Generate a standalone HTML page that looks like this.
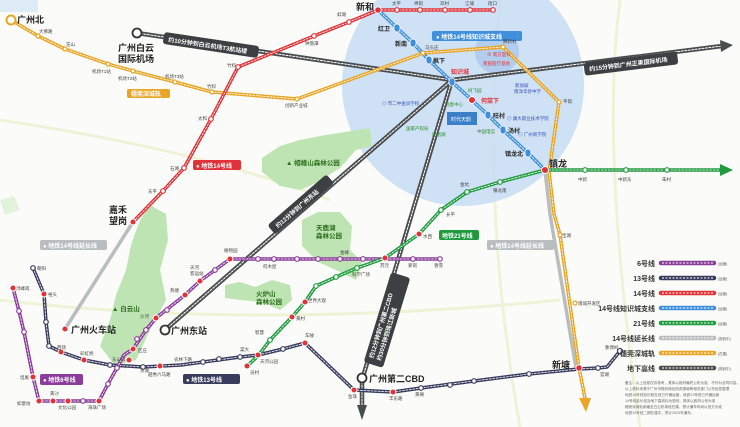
<!DOCTYPE html>
<html><head><meta charset="utf-8"><style>
html,body{margin:0;padding:0;background:#fbfcf9;}
svg{display:block;font-family:"Liberation Sans","Noto Sans CJK SC",sans-serif;}
.s{font-size:4.5px;fill:#444;}
.b{font-size:9px;font-weight:bold;fill:#222;}
.lg{font-size:7px;font-weight:bold;fill:#333;text-anchor:end;}
.bt{font-size:6px;fill:#fff;font-weight:bold;}
</style></head><body>
<svg width="740" height="427" viewBox="0 0 740 427" xmlns="http://www.w3.org/2000/svg">
<rect width="740" height="427" fill="#fbfcf9"/>
<g stroke="#eef3d8" stroke-width="3" fill="none">
<path d="M0,120 Q200,150 330,200"/><path d="M500,0 Q480,200 520,427"/><path d="M620,0 Q600,150 640,427"/><path d="M0,300 Q250,330 560,300"/>
</g>
<circle cx="463" cy="85" r="121" fill="#c5dcf4" opacity="0.85"/>
<circle cx="497" cy="52" r="22" fill="#b3cdee"/>
<g fill="#bfe4b4">
<path d="M150,205 L166,214 L168,240 L160,270 L166,300 L150,330 L136,360 L115,366 L100,346 L110,320 L116,295 L126,270 L131,245 L140,220Z"/>
<path d="M262,172 L262,158 L280,146 L300,140 L320,136 L345,132 L370,128 L372,146 L356,150 L340,168 L318,182 L300,190 L280,186Z"/>
<path d="M302,220 L318,212 L340,212 L352,226 L350,250 L362,262 L356,280 L336,270 L318,262 L302,246Z"/>
<path d="M225,285 L240,282 L255,287 L272,280 L290,285 L292,300 L280,310 L262,302 L240,300 L225,298Z"/>
<path d="M0,200 L14,196 L20,210 L5,215Z" opacity="0.4"/>
</g>
<g font-size="6.5" font-weight="bold" fill="#2a6e1a">
<text x="286" y="165">▲ 帽峰山森林公园</text>
<text x="316" y="230">天鹿湖</text><text x="316" y="238">森林公园</text>
<text x="256" y="296">火炉山</text><text x="256" y="304">森林公园</text>
<text x="112" y="311">▲ 白云山</text>
</g>
<g fill="none" stroke-linecap="round">
<g stroke="#4a4d4f" stroke-width="4.5">
<path d="M137,33 L452,80"/><path d="M452,80 L722,46"/><path d="M452,80 L165,330"/><path d="M452,80 L362,380 L362,408"/>
</g>
<g stroke="#fff" stroke-width="1" stroke-dasharray="2 1.5">
<path d="M137,33 L452,80"/><path d="M452,80 L722,46"/><path d="M452,80 L165,330"/><path d="M452,80 L362,380 L362,405"/>
</g>
</g>
<polygon points="720,40 733,45 721,52" fill="#4a4d4f"/>
<polygon points="357,405 367,405 362,420" fill="#4a4d4f"/>
<circle cx="137" cy="33" r="4.5" fill="#fff" stroke="#333" stroke-width="1.8"/>
<circle cx="165" cy="330" r="4.5" fill="#fff" stroke="#333" stroke-width="1.8"/>
<circle cx="362" cy="378" r="4.5" fill="#fff" stroke="#333" stroke-width="1.8"/>
<g fill="none" stroke-linecap="round" stroke-linejoin="round">
<path d="M133,222 L65,329" stroke="#b9bdbf" stroke-width="3.5"/>
<path d="M545,170 L550,214 L576,368" stroke="#b9bdbf" stroke-width="3.5"/>
</g>
<g fill="none" stroke-linecap="round" stroke-linejoin="round">
<path d="M11,20 L38,36 L65,49 L108,64 L133,71 L175,82 L212,92 L297,99 L423,53 L503,47 L559,102 L549,172 L554,214 L560,235 L579,368 L585,398" stroke="#e8a526" stroke-width="3.5"/>
<path d="M11,20 L38,36 L65,49 L108,64 L133,71 L175,82 L212,92 L297,99 L423,53 L503,47 L559,102 L549,172 L554,214 L560,235 L579,368 L585,398" stroke="#fff" stroke-width="0.8" stroke-dasharray="2 1.5"/>
</g>
<polygon points="579,398 591,398 586,412" fill="#e8a526"/>
<circle cx="11" cy="20" r="4.5" fill="#fff" stroke="#e8a526" stroke-width="2"/>
<g fill="none" stroke-linecap="round" stroke-linejoin="round">
<path d="M33,268 L44,294 L46,322 L49,346 L61,352 L84,360 L110,365 L143,367 L181,365 L203,362 L240,357 L258,355 L283,349 L305,343 L354,390 L393,392 L421,388 L474,381 L529,374 L579,369 L598,368 L607,367 L620,351" stroke="#3a3c5e" stroke-width="3.5"/>
<path d="M33,268 L44,294 L46,322 L49,346 L61,352 L84,360 L110,365 L143,367 L181,365 L203,362 L240,357 L258,355 L283,349 L305,343 L354,390 L393,392 L421,388 L474,381 L529,374 L579,369 L598,368 L607,367 L620,351" stroke="#fff" stroke-width="0.8" stroke-dasharray="2 1.5"/>
<path d="M13,288 L19,311 L24,332 L33,377 L39,401 L99,401 L108,384 L124,355 L133,349 L146,330 L156,318 L185,295 L200,281 L230,259 L440,259" stroke="#8a3c9a" stroke-width="3.5"/>
<path d="M13,288 L19,311 L24,332 L33,377 L39,401 L99,401 L108,384 L124,355 L133,349 L146,330 L156,318 L185,295 L200,281 L230,259 L440,259" stroke="#fff" stroke-width="0.8" stroke-dasharray="2 1.5"/>
<path d="M247,366 L258,356 L270,340 L292,317 L305,302 L316,286 L336,277 L357,268 L385,258 L419,234 L441,210 L467,192 L500,182 L545,170 L722,170" stroke="#1f9a3e" stroke-width="3.5"/>
<path d="M247,366 L258,356 L270,340 L292,317 L305,302 L316,286 L336,277 L357,268 L385,258 L419,234 L441,210 L467,192 L500,182 L545,170 L720,170" stroke="#fff" stroke-width="0.8" stroke-dasharray="2 1.5"/>
<path d="M133,222 L163,191 L184,168 L211,119 L238,67 L314,36 L349,22 L378,10 L493,10" stroke="#e03238" stroke-width="3.5"/>
<path d="M133,222 L163,191 L184,168 L211,119 L238,67 L314,36 L349,22 L378,10 L493,10" stroke="#fff" stroke-width="0.8" stroke-dasharray="2 1.5"/>
<path d="M378,10 L397,28 L413,43 L429,60 L452,82 L472,100 L488,115 L503,130 L528,153 L545,170" stroke="#3f8fdc" stroke-width="3.5"/>
<path d="M378,10 L397,28 L413,43 L429,60 L452,82 L472,100 L488,115 L503,130 L528,153 L545,170" stroke="#fff" stroke-width="0.8" stroke-dasharray="2 1.5"/>
</g>
<polygon points="720,164 733,170 720,176" fill="#1f9a3e"/>
<g fill="#fff" stroke-width="1.2">
<g stroke="#e8a526"><circle cx="38" cy="36" r="2"/><circle cx="65" cy="49" r="2"/><circle cx="108" cy="64" r="2"/><circle cx="133" cy="71" r="2"/><circle cx="175" cy="82" r="2"/><circle cx="212" cy="92" r="2"/><circle cx="297" cy="99" r="2"/><circle cx="423" cy="53" r="2"/><circle cx="503" cy="47" r="2"/><circle cx="559" cy="102" r="2"/><circle cx="560" cy="235" r="2"/><circle cx="575" cy="303" r="2"/></g>
<g stroke="#e03238"><circle cx="163" cy="191" r="2.3"/><circle cx="184" cy="168" r="2.3"/><circle cx="211" cy="119" r="2.3"/><circle cx="238" cy="67" r="2.3"/><circle cx="314" cy="36" r="2.3"/><circle cx="349" cy="22" r="2.3"/><circle cx="397" cy="10" r="2.3"/><circle cx="420" cy="10" r="2.3"/><circle cx="445" cy="10" r="2.3"/><circle cx="470" cy="10" r="2.3"/><circle cx="493" cy="10" r="2.3"/></g>
<g stroke="#1f9a3e"><circle cx="585" cy="170" r="2.3"/><circle cx="626" cy="170" r="2.3"/><circle cx="667" cy="170" r="2.3"/><circle cx="500" cy="182" r="2.3"/><circle cx="467" cy="192" r="2.3"/><circle cx="441" cy="210" r="2.3"/><circle cx="357" cy="268" r="2.3"/><circle cx="336" cy="277" r="2.3"/><circle cx="316" cy="286" r="2.3"/><circle cx="270" cy="340" r="2.3"/></g>
<g stroke="#8a3c9a"><circle cx="19" cy="311" r="2.3"/><circle cx="24" cy="332" r="2.3"/><circle cx="83" cy="401" r="2.3"/><circle cx="108" cy="384" r="2.3"/><circle cx="117" cy="368" r="2.3"/><circle cx="146" cy="330" r="2.3"/><circle cx="137" cy="339" r="2.3"/><circle cx="167" cy="310" r="2.3"/><circle cx="215" cy="270" r="2.3"/><circle cx="258" cy="259" r="2.3"/><circle cx="274" cy="259" r="2.3"/><circle cx="297" cy="259" r="2.3"/><circle cx="318" cy="259" r="2.3"/><circle cx="340" cy="259" r="2.3"/><circle cx="363" cy="259" r="2.3"/><circle cx="413" cy="259" r="2.3"/><circle cx="440" cy="259" r="2.3"/></g>
<g stroke="#3a3c5e"><circle cx="33" cy="268" r="2.3"/><circle cx="46" cy="322" r="2.3"/><circle cx="49" cy="346" r="2.3"/><circle cx="110" cy="365" r="2.3"/><circle cx="143" cy="367" r="2.3"/><circle cx="203" cy="362" r="2.3"/><circle cx="219" cy="359" r="2.3"/><circle cx="240" cy="357" r="2.3"/><circle cx="283" cy="349" r="2.3"/><circle cx="421" cy="388" r="2.3"/><circle cx="450" cy="385" r="2.3"/><circle cx="474" cy="381" r="2.3"/><circle cx="529" cy="374" r="2.3"/><circle cx="598" cy="368" r="2.3"/><circle cx="620" cy="351" r="2.5"/></g>
</g>
<g fill="#3f8fdc" stroke="#fff" stroke-width="0.8"><rect x="394" y="24" width="6" height="8" rx="3"/><rect x="410" y="39" width="6" height="8" rx="3"/><rect x="426" y="56" width="6" height="8" rx="3"/><rect x="449" y="78" width="6" height="8" rx="3"/><rect x="485" y="111" width="6" height="8" rx="3"/><rect x="500" y="126" width="6" height="8" rx="3"/><rect x="525" y="149" width="6" height="8" rx="3"/></g>
<g fill="#e03238" stroke="#fff" stroke-width="0.9">
<circle cx="378" cy="10" r="3.2"/><circle cx="472" cy="100" r="3.5"/><circle cx="545" cy="170" r="3.5"/><circle cx="133" cy="222" r="3"/><circle cx="65" cy="329" r="3"/><circle cx="579" cy="368" r="3.2"/>
<circle cx="13" cy="288" r="3"/><circle cx="33" cy="377" r="3"/><circle cx="39" cy="401" r="3"/><circle cx="53" cy="401" r="3"/><circle cx="68" cy="401" r="3"/><circle cx="99" cy="401" r="3"/><circle cx="129" cy="360" r="3"/><circle cx="133" cy="349" r="3"/><circle cx="156" cy="318" r="3"/><circle cx="185" cy="295" r="3"/><circle cx="200" cy="281" r="3"/><circle cx="230" cy="259" r="3"/><circle cx="385" cy="258" r="3"/>
<circle cx="44" cy="294" r="3"/><circle cx="61" cy="352" r="3"/><circle cx="84" cy="360" r="3"/><circle cx="160" cy="366" r="3"/><circle cx="258" cy="355" r="3"/><circle cx="305" cy="343" r="3"/><circle cx="354" cy="390" r="3"/><circle cx="393" cy="392" r="3"/><circle cx="247" cy="366" r="3"/><circle cx="292" cy="317" r="3"/><circle cx="305" cy="302" r="3"/><circle cx="419" cy="234" r="3"/>
</g>
<g transform="rotate(8.5 211 45)"><rect x="163" y="39" width="96" height="12" rx="3" fill="#3d4042"/><text x="168" y="48" class="bt">约10分钟到白云机场T3航站楼</text></g>
<g transform="rotate(-7 631 64)"><rect x="584" y="57" width="94" height="13" rx="3" fill="#3d4042"/><text x="589" y="66" class="bt">约15分钟到广州正果国际机场</text></g>
<g transform="rotate(-41 300 205)"><rect x="262" y="199" width="78" height="12" rx="3" fill="#3d4042"/><text x="268" y="208" class="bt">约12分钟到广州东站</text></g>
<g transform="rotate(-73 387 320)"><rect x="340" y="310" width="94" height="20" rx="3" fill="#3d4042"/><text x="346" y="318" class="bt" font-size="5.5">约12分钟到广州第二CBD</text><text x="346" y="326" class="bt" font-size="5.5">约30分钟到珠江新城</text></g>
<rect x="432" y="31" width="90" height="10" rx="2" fill="#3f8fdc"/><text x="436" y="39" class="bt">● 地铁14号线知识城支线</text>
<rect x="193" y="160" width="48" height="10" rx="2" fill="#e03238"/><text x="196" y="168" class="bt">● 地铁14号线</text>
<rect x="439" y="230" width="40" height="10" rx="2" fill="#1f9a3e"/><text x="442" y="238" class="bt">地铁21号线</text>
<rect x="487" y="240" width="67" height="10" rx="2" fill="#b9bdbf"/><text x="490" y="248" class="bt">● 地铁14号线延长线</text>
<rect x="40" y="240" width="67" height="10" rx="2" fill="#b9bdbf"/><text x="43" y="248" class="bt">● 地铁14号线延长线</text>
<rect x="40" y="374" width="43" height="11" rx="2" fill="#8a3c9a"/><text x="43" y="382" class="bt">● 地铁6号线</text>
<rect x="183" y="374" width="57" height="10" rx="2" fill="#3a3c5e"/><text x="186" y="382" class="bt">● 地铁13号线</text>
<rect x="127" y="89" width="43" height="9" rx="2" fill="#e8a526"/><text x="131" y="96" class="bt" font-size="5.5">穗莞深城轨</text>
<rect x="0" y="0" width="38" height="12" fill="#d6e6f6" opacity="0.8"/>
<text x="17" y="23" class="b" font-size="8">广州北</text>
<text x="118" y="51" class="b">广州白云</text><text x="118" y="62" class="b">国际机场</text>
<text x="356" y="10" class="b">新和</text>
<text x="109" y="213" class="b">嘉禾</text><text x="109" y="224" class="b">望岗</text>
<text x="71" y="333" class="b">广州火车站</text>
<text x="171" y="334" class="b">广州东站</text>
<text x="369" y="382" class="b">广州第二CBD</text>
<text x="552" y="368" class="b">新塘</text>
<text x="549" y="167" class="b">镇龙</text>
<g font-size="6" font-weight="bold" fill="#222"><text x="378" y="31">红卫</text><text x="395" y="46">新南</text><text x="433" y="63">枫下</text><text x="493" y="118">旺村</text><text x="508" y="133">汤村</text><text x="505" y="156">镇龙北</text></g>
<g font-size="6" font-weight="bold" fill="#e03238"><text x="451" y="74">知识城</text><text x="481" y="103">何棠下</text></g>
<rect x="447" y="112" width="30" height="13" fill="#3a7fc8"/><text x="451" y="121" font-size="5" fill="#fff">时代天韵</text>
<g font-size="4.5" fill="#2d8a2a"><text x="468" y="92">树飞园</text><text x="445" y="106">创意中心</text><text x="477" y="133">中国电信</text><text x="432" y="136">凤凰湖</text><text x="406" y="130">国家产权局</text></g>
<g font-size="4.5" fill="#3b4eb5"><text x="382" y="105">◎ 市二中金凤学校</text><text x="515" y="87">新加坡</text><text x="514" y="93">南洋华侨中学</text><text x="507" y="120">◎ 康大职业技术学院</text><text x="518" y="136">◎ 广州商学院</text></g>
<g font-size="4.5" fill="#e03238"><text x="487" y="56">⊕ 南方医科</text><text x="483" y="65">南部医疗基地</text></g>
<g class="s">
<text x="39" y="33">大佛路</text><text x="66" y="46">花山</text><text x="92" y="73">机场T1站</text><text x="118" y="80">机场T2站</text><text x="165" y="78">机场T3站</text><text x="207" y="88">竹料</text><text x="285" y="107">创新产业城</text>
<text x="227" y="67">竹料</text><text x="305" y="45">钟落潭</text><text x="337" y="16">蚌湖</text><text x="392" y="5">太平</text><text x="414" y="5">神岗</text><text x="440" y="5">邓村</text><text x="465" y="5">江埔</text><text x="488" y="5">街口</text>
<text x="198" y="120">太和</text><text x="170" y="170">石湖</text><text x="148" y="193">东平</text>
<text x="425" y="49">马头庄</text><text x="503" y="43">腾新村</text><text x="563" y="103">平岗</text>
<text x="578" y="181">中新</text><text x="618" y="181">中新东</text><text x="662" y="181">朱村</text><text x="493" y="192">镇龙南</text><text x="460" y="186">金坑</text><text x="446" y="216">长平</text><text x="423" y="238">水西</text>
<text x="380" y="267">苏元</text><text x="408" y="267">萝岗</text><text x="434" y="267">香雪</text><text x="352" y="276">科学广场</text><text x="340" y="254">金峰</text><text x="263" y="268">何木屋</text><text x="224" y="252">植物园</text>
<text x="308" y="302">世界大观</text><text x="296" y="320">黄村</text><text x="255" y="334">智慧</text><text x="260" y="363">天河公园</text><text x="250" y="374">员村</text><text x="240" y="351">棠大</text><text x="305" y="337">车陂</text>
<text x="562" y="237">宝湖</text><text x="578" y="305">增城开发区</text><text x="600" y="376">官湖</text><text x="605" y="349">象颈岭</text><text x="415" y="396">黄阁</text><text x="389" y="400">丰乐路</text><text x="348" y="398">鱼珠</text>
<text x="37" y="270">朝阳</text><text x="48" y="296">裕头</text><text x="16" y="290">浔峰岗</text><text x="20" y="379">坦尾</text><text x="17" y="405">如意坊</text><text x="50" y="395">黄沙</text><text x="58" y="409">文化公园</text><text x="88" y="409">海珠广场</text>
<text x="57" y="349">西场</text><text x="80" y="355">彩虹桥</text><text x="112" y="361">东山口</text><text x="138" y="352">区庄</text><text x="140" y="372">东湖</text><text x="148" y="376">越秀六马路</text><text x="174" y="361">农林下路</text>
<text x="140" y="318">沙河</text><text x="170" y="292">燕塘</text><text x="190" y="269">天河</text><text x="190" y="275">客运站</text>
</g>
<g>
<text x="655" y="266" class="lg">6号线</text><text x="655" y="281" class="lg">13号线</text><text x="655" y="296" class="lg">14号线</text><text x="655" y="311" class="lg">14号线知识城支线</text><text x="655" y="326" class="lg">21号线</text><text x="655" y="341" class="lg">14号线延长线</text><text x="655" y="356" class="lg">穗莞深城轨</text><text x="655" y="371" class="lg">地下高线</text>
<g stroke-width="4.5" stroke-linecap="round">
<line x1="661" y1="263" x2="714" y2="263" stroke="#8a3c9a"/><line x1="661" y1="278" x2="714" y2="278" stroke="#3a3c5e"/><line x1="661" y1="293" x2="714" y2="293" stroke="#e03238"/><line x1="661" y1="308" x2="714" y2="308" stroke="#3f8fdc"/><line x1="661" y1="323" x2="714" y2="323" stroke="#1f9a3e"/><line x1="661" y1="338" x2="714" y2="338" stroke="#b9bdbf"/><line x1="661" y1="353" x2="714" y2="353" stroke="#e8a526"/><line x1="661" y1="368" x2="714" y2="368" stroke="#4a4d4f"/>
</g>
<g stroke="#fff" stroke-width="1" stroke-dasharray="2 1.5"><line x1="662" y1="263" x2="713" y2="263"/><line x1="662" y1="278" x2="713" y2="278"/><line x1="662" y1="293" x2="713" y2="293"/><line x1="662" y1="308" x2="713" y2="308"/><line x1="662" y1="323" x2="713" y2="323"/><line x1="662" y1="338" x2="713" y2="338"/><line x1="662" y1="353" x2="713" y2="353"/><line x1="662" y1="368" x2="713" y2="368"/></g>
<g font-size="3.5" fill="#555"><text x="718" y="265">(运营)</text><text x="718" y="280">(运营)</text><text x="718" y="295">(运营)</text><text x="718" y="310">(运营)</text><text x="718" y="325">(运营)</text><text x="718" y="340">(规划中)</text><text x="718" y="355">(在建)</text><text x="718" y="370">(规划中)</text></g>
<g font-size="3.6" fill="#666"><text x="625" y="384">备注：以上信息仅供参考，具体以政府最终公布为准，不作为合同内容。</text><text x="625" y="390">以上资料来源于广州市规划和自然资源局等相关部门公布信息整理</text><text x="625" y="396">地铁14号线知识城支线已开通运营，地铁21号线已开通运营</text><text x="625" y="402">14号线延长线及地下高线均为规划，具体以政府公布为准</text><text x="625" y="408">穗莞深城轨新塘至白云机场段在建，预计通车时间以官方为准</text><text x="625" y="414">地铁13号线二期在建中，预计2023年通车。</text></g>
</g>
</svg>
</body></html>
